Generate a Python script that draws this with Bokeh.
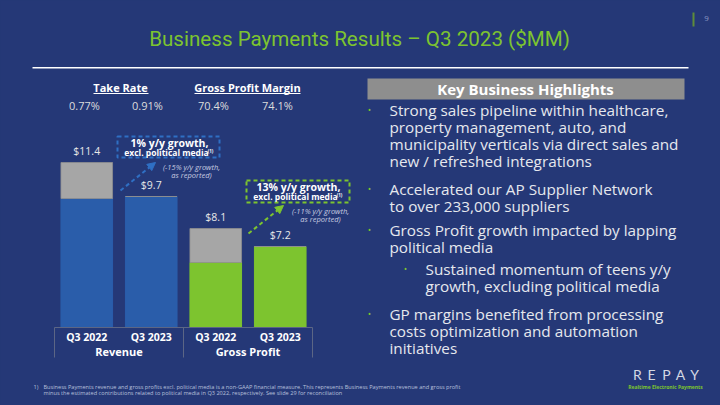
from bokeh.plotting import figure
from bokeh.models import (Range1d, ColumnDataSource, Label, LabelSet,
                          BoxAnnotation, Arrow, NormalHead)
from bokeh.core.properties import value
from bokeh.embed import file_html
from bokeh.resources import INLINE

# ---------------- data ----------------
segments = ["Revenue", "Revenue", "Gross Profit", "Gross Profit"]
quarters = ["Q3 2022", "Q3 2023", "Q3 2022", "Q3 2023"]
excl_political = [9.6, 9.7, 6.4, 7.2]
political_media = [1.8, 0.0, 1.7, 0.0]
totals = [11.4, 9.7, 8.1, 7.2]
total_labels = ["$11.4", "$9.7", "$8.1", "$7.2"]
group_names = ["Revenue", "Gross Profit"]
take_rate = ["0.77%", "0.91%"]
gp_margin = ["70.4%", "74.1%"]

BG = "#253877"
BLUE = "#2A5DAA"
GRAY = "#A6A6A6"
GREEN = "#7DC42F"
AXIS = "#5C6685"
BODY = "Open Sans"

W, H = 720, 405
# layout of the bar area on the slide (pixels)
BAR_X0, BAR_STEP = 86.25, 64.5      # centre of first bar, distance between bars
ZERO_Y, PX_PER_UNIT = 390.0, 20.0   # truncated value axis
AXIS_FLOOR = (ZERO_Y - 327) / PX_PER_UNIT

idx = list(range(len(quarters)))
bar_colors = [BLUE if s == "Revenue" else GREEN for s in segments]
tops = [a + b for a, b in zip(excl_political, political_media)]

src = ColumnDataSource(dict(x=idx, excl=excl_political, top=tops, floor=[AXIS_FLOOR] * 4,
                            total=totals, label=total_labels, color=bar_colors, q=quarters))
gsrc = ColumnDataSource(dict(x=[0.5, 2.5], y=[AXIS_FLOOR] * 2, name=group_names))

p = figure(width=W, height=H,
           x_range=Range1d(-BAR_X0 / BAR_STEP, (W - BAR_X0) / BAR_STEP),
           y_range=Range1d((ZERO_Y - H) / PX_PER_UNIT, ZERO_Y / PX_PER_UNIT),
           output_backend="svg", toolbar_location=None,
           x_axis_location=None, y_axis_location=None, min_border=0,
           background_fill_color=BG, border_fill_color=BG, outline_line_color=None)
p.xgrid.grid_line_color = None
p.ygrid.grid_line_color = None

p.vbar(x="x", bottom="floor", top="excl", width=0.8, color="color", source=src)
p.vbar(x="x", bottom="excl", top="top", width=0.8, fill_color=GRAY, line_color="#8f8f8f",
       line_width=0.8, source=src)

p.add_layout(LabelSet(x="x", y="total", text="label", source=src, y_offset=5,
                      text_align="center", text_baseline="bottom", text_color="#e8e8e8",
                      text_font=value(BODY), text_font_size="10.5px"))
p.add_layout(LabelSet(x="x", y="floor", text="q", source=src, y_offset=-9,
                      text_align="center", text_baseline="middle", text_color="white",
                      text_font=value(BODY), text_font_style="bold", text_font_size="10.5px"))
p.add_layout(LabelSet(x="x", y="y", text="name", source=gsrc, y_offset=-24,
                      text_align="center", text_baseline="middle", text_color="white",
                      text_font=value(BODY), text_font_style="bold", text_font_size="11px"))


def sx(x):
    return x


def sy(y):
    return H - y


def lab(x, y, text, size, color="white", style="normal", align="center", font=BODY):
    p.add_layout(Label(x=sx(x), y=sy(y), x_units="screen", y_units="screen", text=text,
                       text_font=font, text_font_size=f"{size}px", text_color=color,
                       text_font_style=style, text_align=align, text_baseline="middle"))


def box(x0, y0, x1, y1, fill=None, line=None, dash="solid", lw=1):
    p.add_layout(BoxAnnotation(left=sx(x0), right=sx(x1), top=sy(y0), bottom=sy(y1),
                               left_units="screen", right_units="screen",
                               top_units="screen", bottom_units="screen",
                               fill_color=fill, fill_alpha=1.0 if fill else 0.0,
                               line_color=line, line_dash=dash, line_width=lw,
                               line_alpha=1.0 if line else 0.0))


def arrow(x0, y0, x1, y1, color):
    p.add_layout(Arrow(x_start=sx(x0), y_start=sy(y0), x_end=sx(x1), y_end=sy(y1),
                       start_units="screen", end_units="screen", line_color=color,
                       line_width=2, line_dash="4 3",
                       end=NormalHead(size=8, fill_color=color, line_color=color)))


# axis line and separators
box(54, 326.5, 312, 327.5, fill=AXIS)
for xv in (54, 183, 312):
    box(xv - 0.5, 327, xv + 0.5, 357, fill=AXIS)

# title and rule
lab(359, 38, "Business Payments Results \u2013 Q3 2023 ($MM)", 20.6, color=GREEN, font="Roboto")
box(32, 66.5, 688, 68, fill="white")
box(692, 12, 694, 26, fill="#5E8C3A")
lab(706, 18, "9", 8, color="#8d99c4")

# KPI headers
lab(120, 87, "Take Rate", 11, style="bold")
box(93, 92.5, 148, 93.5, fill="white")
lab(247, 87, "Gross Profit Margin", 11, style="bold")
box(194, 92.5, 300, 93.5, fill="white")
for xv, t in zip((84, 147), take_rate):
    lab(xv, 105, t, 11, color="#dcdcdc")
for xv, t in zip((213, 277), gp_margin):
    lab(xv, 105, t, 11, color="#dcdcdc")

# growth callouts
box(117, 136, 219, 157, line="#2F6FC4", dash="4 3", lw=2)
lab(169, 142, "1% y/y growth,", 10.5, style="bold")
lab(166, 152, "excl. political media", 8.5, style="bold")
lab(210, 150, "(1)", 4.5, style="bold")
lab(191, 166, "(-15% y/y growth,", 7.5, color="#c8cde0", style="italic")
lab(191, 174, "as reported)", 7.5, color="#c8cde0", style="italic")
arrow(120, 190, 155, 162, "#2F6FC4")

box(246, 180, 349, 202, line=GREEN, dash="4 3", lw=2)
lab(298, 186, "13% y/y growth,", 10.5, style="bold")
lab(295, 196, "excl. political media", 8.5, style="bold")
lab(339, 194, "(1)", 4.5, style="bold")
lab(320, 210, "(-11% y/y growth,", 7.5, color="#c8cde0", style="italic")
lab(320, 218, "as reported)", 7.5, color="#c8cde0", style="italic")
arrow(248, 233, 283, 205, GREEN)

# highlights panel
box(367, 78, 684, 99, fill="#8E8E8E")
lab(525, 88.5, "Key Business Highlights", 15, style="bold")

lines = [
    (389, 109, "Strong sales pipeline within healthcare,"),
    (389, 126, "property management, auto, and"),
    (389, 143, "municipality verticals via direct sales and"),
    (389, 160, "new / refreshed integrations"),
    (389, 188, "Accelerated our AP Supplier Network"),
    (389, 205, "to over 233,000 suppliers"),
    (389, 229, "Gross Profit growth impacted by lapping"),
    (389, 246, "political media"),
    (425, 268, "Sustained momentum of teens y/y"),
    (425, 285, "growth, excluding political media"),
    (389, 313, "GP margins benefited from processing"),
    (389, 330, "costs optimization and automation"),
    (389, 347, "initiatives"),
]
for xv, yv, t in lines:
    lab(xv, yv, t, 15.3, color="#e6e8ee", align="left")
for xv, yv in ((369, 109), (369, 188), (369, 229), (405, 268), (369, 313)):
    lab(xv, yv, "\u2022", 9, color=GREEN)

# footnote
lab(33, 386, "1)", 5.6, color="#b8c0dc", align="left")
lab(43, 386, "Business Payments revenue and gross profits excl. political media is a non-GAAP "
             "financial measure. This represents Business Payments revenue and gross profit",
    5.6, color="#b8c0dc", align="left")
lab(43, 392, "minus the estimated contributions related to political media in Q3 2022, "
             "respectively. See slide 29 for reconciliation", 5.6, color="#b8c0dc", align="left")

# logo
for xv, ch in zip((637, 651, 666, 680, 694), "REPAY"):
    lab(xv, 374, ch, 14, color="#d4d8e4", font="Lato")
lab(665, 386, "Realtime Electronic Payments", 5, color=GREEN, style="bold")

try:
    from bokeh.models import GlobalInlineStyleSheet
    p.stylesheets = [GlobalInlineStyleSheet(
        css="html, body { margin: 0; padding: 0; background: %s; overflow: hidden; }" % BG)]
except Exception:
    pass

open("out.html", "w").write(file_html(p, INLINE))
